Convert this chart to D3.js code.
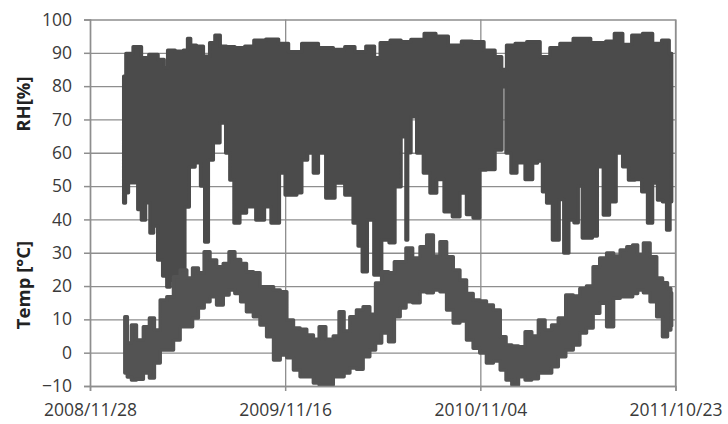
<!DOCTYPE html>
<html><head><meta charset="utf-8">
<script src="https://cdn.jsdelivr.net/npm/d3@7"></script>
<style>
html,body{margin:0;padding:0;background:#fff;}
svg{display:block;}
</style></head>
<body>
<svg id="c" width="728" height="424"></svg>
<script>
// ---------- data (day offsets from 2008/11/28) ----------
const startDate = "2008-11-28";
const endDate = "2011-10-23";
const xTickLabels = ["2008/11/28", "2009/11/16", "2010/11/04", "2011/10/23"];
const yTicks = [-10, 0, 10, 20, 30, 40, 50, 60, 70, 80, 90, 100];
const yLabelRH = "RH[%]";
const yLabelTemp = "Temp [°C]";

// Relative humidity: daily maxima envelope
const rhHighDays = [61,69,87,99,114,132,136,145,163,175,178,186,199,211,222,230,241,253,271,289,304,332,350,368,398,428,452,470,488,510,519,531,555,570,591,618,633,663,681,702,723,742,747,760,778,802,826,838,862,886,925,941,956,971,989,1010,1025,1043,1052];
const rhHigh = [83,89.8,91.8,88.5,89.5,88,85.5,90.8,90.5,90.8,94.3,92.3,92,89,93,95.3,92,91.8,91.5,92,93.8,94.1,92.8,90.3,92.8,91.5,91,91.8,90.3,92,88.5,93,93.8,93.3,94,95.8,95,92.3,93.5,93.3,90.8,88.8,85,92.3,92.8,93.3,88.8,91.5,92.8,94.3,93,93.5,95.8,92.5,95.3,95.8,92.8,93.8,89.8];
// Relative humidity: daily minima envelope
const rhLowDays = [61,67,72,83,90,96,105,112,118,127,136,142,148,157,163,168,175,184,196,204,211,217,229,241,250,256,265,277,289,311,320,335,350,356,368,380,386,401,407,419,434,452,470,482,488,497,506,521,534,548,555,570,573,576,585,597,609,621,633,648,663,675,687,699,711,723,742,748,757,766,778,796,805,814,823,829,844,853,861,871,880,886,895,904,913,922,935,944,959,968,980,992,1004,1013,1022,1031,1040,1046,1052];
const rhLow = [44.9,48,51,51,43,39.8,45,35.9,38,27.8,23,19.7,21.8,13.7,12.8,20,43.7,55.7,57,50,33.2,57.8,63,68.9,59.9,51.8,38.9,41.9,43.8,39.8,43.8,38.9,53.9,47.3,47.3,48,57.8,59.9,53.9,59.9,46.4,50.9,47.3,38.9,32,24.3,39.8,23.3,33.8,33,49.8,64.8,33.8,60,70.8,59.9,53.9,47.9,52,42.3,40.8,47.9,41.5,40.4,54.8,55,60.8,79.8,59.9,53.9,57,52,56.9,57.5,48.3,44.9,33.8,46,29.9,39.8,39,50,34.4,34.4,35,55.8,41.3,45.3,59.9,55.8,51.8,52,48.3,38.9,50.9,45.8,45.3,36.8,45.3];

// Temperature: daily max / min envelopes
const tempDays = [63,72,78,90,103,112,121,133,145,157,169,181,190,202,211,223,235,247,256,268,277,289,302,313,326,338,350,362,374,386,398,410,419,434,446,455,464,476,488,500,512,521,534,546,555,567,576,591,603,615,627,639,651,663,675,687,699,711,723,736,748,757,769,781,793,805,817,829,841,853,868,880,892,904,916,928,941,953,965,977,986,995,1007,1019,1031,1040,1049,1052];
const tempHigh = [10.8,2.9,8.3,3.8,7.8,10.4,6.8,15.8,16.8,22.8,24.8,22.4,25.4,24,30.3,27.8,25.8,26.8,30.3,28,26.8,24.3,24,19.8,19.8,18.8,18.3,9.8,7.4,7,5.3,4,7.8,4,5,12.3,6.5,10.8,12.8,13.8,11.5,20.9,24.3,24,27.3,27.3,31.4,28.4,31.8,35.3,29,33.3,28.8,24.8,21.8,17.8,15.8,15.5,14.3,12.8,4.8,2.3,2,1.8,6.3,5,9.8,6.8,8.3,10.4,17.3,17,19.3,20,25.8,28.4,29.9,29,30.8,31.8,32.3,29.5,32.9,28.8,22.4,21,19.3,18];
const tempLow = [-6.1,-7.3,-8.2,-8,-6.1,-7.6,-3.1,0.8,0.8,3.8,7.8,7.8,10.4,13.4,15.3,16.8,14.3,17.3,18.8,17.8,15.3,12.3,10.8,8.3,4.8,-2.2,-0.7,-1.5,-5.2,-7.2,-7.2,-9.1,-9.7,-9.7,-7.2,-7.2,-6.1,-4.6,-5,-1.2,0.8,2.9,5.9,3.3,10.8,13.4,15.3,15,18.3,18,18.8,18.3,12.8,8.9,9.5,3.8,1.3,-0.1,-3.1,-2.5,-5.2,-8.2,-9.7,-7.2,-8.2,-7.8,-6.1,-6.1,-4.2,-1.2,0.8,2.3,5.9,7.4,11.8,14.8,7.8,16.3,16.8,16.8,17.8,18.8,18,15.3,10.8,4.8,6.8,8];

// ---------- drawing ----------
const svg = d3.select("#c");
const W = 728, H = 424;
const m = {left: 90, right: 52.5, top: 19.5, bottom: 38};
const parse = d3.timeParse("%Y-%m-%d");
const t0 = parse(startDate), t1 = parse(endDate);
const dayToDate = d => d3.timeDay.offset(t0, d);

const x = d3.scaleTime().domain([t0, t1]).range([m.left, W - m.right]);
const y = d3.scaleLinear().domain([-10, 100]).range([H - m.bottom, m.top]);
const xTickDates = xTickLabels.map(s => d3.timeParse("%Y/%m/%d")(s));

const gridColor = "#8e8e8e";
const textColor = "#3a3a3a";
const fontFam = "'Open Sans', 'Liberation Sans', sans-serif";

// horizontal gridlines
svg.append("g")
  .attr("transform", `translate(${m.left},0)`)
  .call(d3.axisLeft(y).tickValues(yTicks).tickSize(-(W - m.left - m.right)).tickFormat(""))
  .call(g => g.select(".domain").remove())
  .call(g => g.selectAll("line").attr("stroke", gridColor).attr("stroke-width", 1.3));
// vertical gridlines
svg.append("g")
  .attr("transform", `translate(0,${H - m.bottom})`)
  .call(d3.axisBottom(x).tickValues(xTickDates).tickSize(-(H - m.top - m.bottom)).tickFormat(""))
  .call(g => g.select(".domain").remove())
  .call(g => g.selectAll("line").attr("stroke", gridColor).attr("stroke-width", 1.3));
// right border
svg.append("line").attr("x1", W - m.right).attr("x2", W - m.right)
  .attr("y1", m.top).attr("y2", H - m.bottom).attr("stroke", gridColor).attr("stroke-width", 1.3);

// RH envelope polygon (step outline, like dense daily bars)
const rhPts = rhHighDays.map((d, i) => [x(dayToDate(d)), y(rhHigh[i])])
  .concat(rhLowDays.map((d, i) => [x(dayToDate(d)), y(rhLow[i])]).reverse());
const poly = d3.line().curve(d3.curveStep);
svg.append("path").attr("d", poly(rhPts) + "Z")
  .attr("fill", "#4b4b4b").attr("stroke", "#4b4b4b").attr("stroke-width", 3.5)
  .attr("stroke-linejoin", "round");

// Temperature band
const tArea = d3.area()
  .curve(d3.curveStep)
  .x((d, i) => x(dayToDate(d)))
  .y0((d, i) => y(tempLow[i]))
  .y1((d, i) => y(tempHigh[i]));
svg.append("path").attr("d", tArea(tempDays))
  .attr("fill", "#535353").attr("stroke", "#535353").attr("stroke-width", 3.5)
  .attr("stroke-linejoin", "round");

// Axes with tick marks and labels
const yAx = svg.append("g")
  .attr("transform", `translate(${m.left},0)`)
  .call(d3.axisLeft(y).tickValues(yTicks).tickSize(6).tickPadding(12));
const xAx = svg.append("g")
  .attr("transform", `translate(0,${H - m.bottom})`)
  .call(d3.axisBottom(x).tickValues(xTickDates).tickSize(5).tickPadding(13)
    .tickFormat((d, i) => xTickLabels[i]));
[yAx, xAx].forEach(g => {
  g.select(".domain").attr("stroke", gridColor).attr("stroke-width", 1.5);
  g.selectAll("line").attr("stroke", gridColor).attr("stroke-width", 1.5);
  g.selectAll("text").attr("fill", textColor).attr("font-family", fontFam).attr("font-size", 17.5);
});

// axis titles
svg.append("text").text(yLabelRH)
  .attr("transform", `translate(30,104) rotate(-90)`)
  .attr("text-anchor", "middle").attr("font-family", fontFam).attr("font-weight", "bold")
  .attr("font-size", 18.5).attr("fill", "#222");
svg.append("text").text(yLabelTemp)
  .attr("transform", `translate(30,285) rotate(-90)`)
  .attr("text-anchor", "middle").attr("font-family", fontFam).attr("font-weight", "bold")
  .attr("font-size", 18.5).attr("fill", "#222");
</script>
</body></html>
